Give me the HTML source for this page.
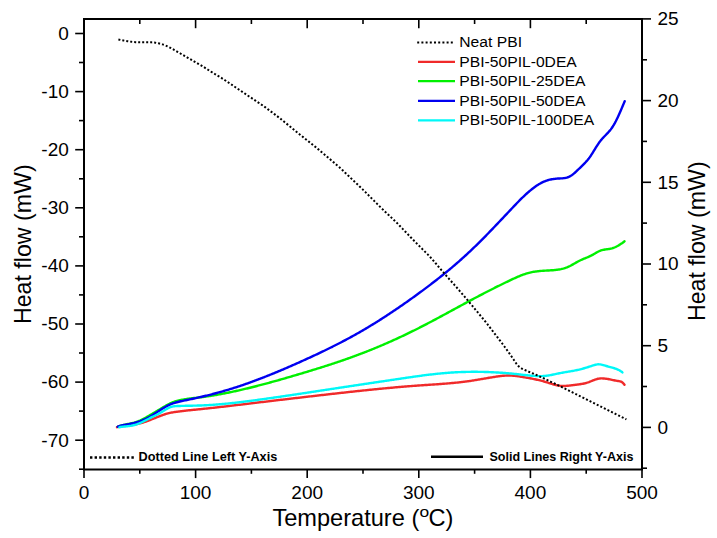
<!DOCTYPE html>
<html><head><meta charset="utf-8"><style>
html,body{margin:0;padding:0;background:#fff;}
svg{display:block;}
text{font-family:"Liberation Sans",sans-serif;fill:#000;}
</style></head><body>
<svg width="717" height="538" viewBox="0 0 717 538">
<rect width="717" height="538" fill="#fff"/>
<g stroke="#000" stroke-width="1.6" fill="none">
<line x1="84.0" y1="469.5" x2="84.0" y2="478.1"/>
<line x1="84.0" y1="19" x2="84.0" y2="28.2"/>
<line x1="139.8" y1="469.5" x2="139.8" y2="473.8"/>
<line x1="139.8" y1="19" x2="139.8" y2="24"/>
<line x1="195.6" y1="469.5" x2="195.6" y2="478.1"/>
<line x1="195.6" y1="19" x2="195.6" y2="28.2"/>
<line x1="251.4" y1="469.5" x2="251.4" y2="473.8"/>
<line x1="251.4" y1="19" x2="251.4" y2="24"/>
<line x1="307.2" y1="469.5" x2="307.2" y2="478.1"/>
<line x1="307.2" y1="19" x2="307.2" y2="28.2"/>
<line x1="363.0" y1="469.5" x2="363.0" y2="473.8"/>
<line x1="363.0" y1="19" x2="363.0" y2="24"/>
<line x1="418.8" y1="469.5" x2="418.8" y2="478.1"/>
<line x1="418.8" y1="19" x2="418.8" y2="28.2"/>
<line x1="474.6" y1="469.5" x2="474.6" y2="473.8"/>
<line x1="474.6" y1="19" x2="474.6" y2="24"/>
<line x1="530.4" y1="469.5" x2="530.4" y2="478.1"/>
<line x1="530.4" y1="19" x2="530.4" y2="28.2"/>
<line x1="586.2" y1="469.5" x2="586.2" y2="473.8"/>
<line x1="586.2" y1="19" x2="586.2" y2="24"/>
<line x1="642.0" y1="469.5" x2="642.0" y2="478.1"/>
<line x1="642.0" y1="19" x2="642.0" y2="28.2"/>
<line x1="75.2" y1="33.5" x2="84" y2="33.5"/>
<line x1="79" y1="62.5" x2="84" y2="62.5"/>
<line x1="75.2" y1="91.6" x2="84" y2="91.6"/>
<line x1="79" y1="120.6" x2="84" y2="120.6"/>
<line x1="75.2" y1="149.7" x2="84" y2="149.7"/>
<line x1="79" y1="178.8" x2="84" y2="178.8"/>
<line x1="75.2" y1="207.8" x2="84" y2="207.8"/>
<line x1="79" y1="236.8" x2="84" y2="236.8"/>
<line x1="75.2" y1="265.9" x2="84" y2="265.9"/>
<line x1="79" y1="294.9" x2="84" y2="294.9"/>
<line x1="75.2" y1="324.0" x2="84" y2="324.0"/>
<line x1="79" y1="353.0" x2="84" y2="353.0"/>
<line x1="75.2" y1="382.1" x2="84" y2="382.1"/>
<line x1="79" y1="411.1" x2="84" y2="411.1"/>
<line x1="75.2" y1="440.2" x2="84" y2="440.2"/>
<line x1="79" y1="469.2" x2="84" y2="469.2"/>
<line x1="642" y1="468.2" x2="647" y2="468.2"/>
<line x1="642" y1="427.4" x2="651" y2="427.4"/>
<line x1="642" y1="386.5" x2="647" y2="386.5"/>
<line x1="642" y1="345.7" x2="651" y2="345.7"/>
<line x1="642" y1="304.8" x2="647" y2="304.8"/>
<line x1="642" y1="264.0" x2="651" y2="264.0"/>
<line x1="642" y1="223.1" x2="647" y2="223.1"/>
<line x1="642" y1="182.3" x2="651" y2="182.3"/>
<line x1="642" y1="141.4" x2="647" y2="141.4"/>
<line x1="642" y1="100.6" x2="651" y2="100.6"/>
<line x1="642" y1="59.8" x2="647" y2="59.8"/>
<line x1="642" y1="18.9" x2="651" y2="18.9"/>
</g>
<rect x="84" y="19" width="558" height="450.5" fill="none" stroke="#000" stroke-width="2"/>
<g font-size="19">
<text x="84.0" y="498.9" text-anchor="middle">0</text>
<text x="195.6" y="498.9" text-anchor="middle">100</text>
<text x="307.2" y="498.9" text-anchor="middle">200</text>
<text x="418.8" y="498.9" text-anchor="middle">300</text>
<text x="530.4" y="498.9" text-anchor="middle">400</text>
<text x="642.0" y="498.9" text-anchor="middle">500</text>
<text x="68.8" y="39.8" text-anchor="end">0</text>
<text x="68.8" y="97.9" text-anchor="end">-10</text>
<text x="68.8" y="156.0" text-anchor="end">-20</text>
<text x="68.8" y="214.1" text-anchor="end">-30</text>
<text x="68.8" y="272.2" text-anchor="end">-40</text>
<text x="68.8" y="330.3" text-anchor="end">-50</text>
<text x="68.8" y="388.4" text-anchor="end">-60</text>
<text x="68.8" y="446.5" text-anchor="end">-70</text>
<text x="657.4" y="433.8">0</text>
<text x="657.4" y="352.1">5</text>
<text x="657.4" y="270.4">10</text>
<text x="657.4" y="188.7">15</text>
<text x="657.4" y="107.0">20</text>
<text x="657.4" y="25.3">25</text>
</g>
<text x="0" y="0" font-size="23.2" text-anchor="middle" transform="translate(31.1,244.2) rotate(-90)">Heat flow (mW)</text>
<text x="0" y="0" font-size="23.2" text-anchor="middle" transform="translate(704.7,241.2) rotate(-90)">Heat flow (mW)</text>
<text x="272.4" y="526" font-size="23.6">Temperature (</text>
<text x="0" y="0" font-size="14.5" transform="translate(419.6,516.6) scale(1.2,1)">o</text>
<text x="428.4" y="526" font-size="23.6">C)</text>
<g fill="none" stroke-width="2.4" stroke-linejoin="round" stroke-linecap="round">
<path d="M117.00,427.20 L118.00,426.97 L119.00,426.77 L120.00,426.59 L121.00,426.43 L122.00,426.28 L123.00,426.15 L124.00,426.03 L125.00,425.91 L126.00,425.80 L127.00,425.69 L128.00,425.57 L129.00,425.46 L130.00,425.33 L131.00,425.19 L132.00,425.04 L133.00,424.88 L134.00,424.71 L135.00,424.52 L136.00,424.32 L137.00,424.11 L138.00,423.88 L139.00,423.64 L140.00,423.39 L141.00,423.12 L142.00,422.83 L143.00,422.54 L144.00,422.22 L145.00,421.89 L146.00,421.55 L147.00,421.19 L148.00,420.82 L149.00,420.44 L150.00,420.05 L151.00,419.65 L152.00,419.25 L153.00,418.84 L154.00,418.43 L155.00,418.02 L156.00,417.61 L157.00,417.20 L158.00,416.80 L159.00,416.40 L160.00,416.01 L161.00,415.63 L162.00,415.26 L163.00,414.91 L164.00,414.56 L165.00,414.24 L166.00,413.93 L167.00,413.64 L168.00,413.37 L169.00,413.12 L170.00,412.89 L171.00,412.68 L172.00,412.49 L173.00,412.31 L174.00,412.15 L175.00,411.99 L176.00,411.85 L177.00,411.71 L178.00,411.58 L179.00,411.45 L180.00,411.32 L181.00,411.20 L182.00,411.08 L183.00,410.96 L184.00,410.85 L185.00,410.73 L186.00,410.62 L187.00,410.52 L188.00,410.41 L189.00,410.30 L190.00,410.20 L191.00,410.10 L192.00,410.00 L193.00,409.90 L194.00,409.80 L195.00,409.70 L196.00,409.60 L197.00,409.50 L198.00,409.40 L199.00,409.30 L200.00,409.19 L201.00,409.09 L202.00,408.99 L203.00,408.89 L204.00,408.78 L205.00,408.68 L206.00,408.57 L207.00,408.47 L208.00,408.36 L209.00,408.25 L210.00,408.14 L211.00,408.04 L212.00,407.93 L213.00,407.82 L214.00,407.71 L215.00,407.59 L216.00,407.48 L217.00,407.37 L218.00,407.26 L219.00,407.15 L220.00,407.03 L221.00,406.92 L222.00,406.80 L223.00,406.69 L224.00,406.57 L225.00,406.46 L226.00,406.34 L227.00,406.23 L228.00,406.11 L229.00,405.99 L230.00,405.87 L231.00,405.76 L232.00,405.64 L233.00,405.52 L234.00,405.40 L235.00,405.28 L236.00,405.16 L237.00,405.05 L238.00,404.93 L239.00,404.81 L240.00,404.69 L241.00,404.57 L242.00,404.45 L243.00,404.33 L244.00,404.21 L245.00,404.09 L246.00,403.97 L247.00,403.85 L248.00,403.73 L249.00,403.61 L250.00,403.49 L251.00,403.37 L252.00,403.25 L253.00,403.13 L254.00,403.01 L255.00,402.89 L256.00,402.77 L257.00,402.65 L258.00,402.54 L259.00,402.42 L260.00,402.30 L261.00,402.18 L262.00,402.06 L263.00,401.94 L264.00,401.82 L265.00,401.70 L266.00,401.58 L267.00,401.46 L268.00,401.35 L269.00,401.23 L270.00,401.11 L271.00,400.99 L272.00,400.87 L273.00,400.75 L274.00,400.63 L275.00,400.52 L276.00,400.40 L277.00,400.28 L278.00,400.16 L279.00,400.04 L280.00,399.93 L281.00,399.81 L282.00,399.69 L283.00,399.57 L284.00,399.46 L285.00,399.34 L286.00,399.22 L287.00,399.10 L288.00,398.99 L289.00,398.87 L290.00,398.75 L291.00,398.64 L292.00,398.52 L293.00,398.40 L294.00,398.29 L295.00,398.17 L296.00,398.05 L297.00,397.94 L298.00,397.82 L299.00,397.70 L300.00,397.59 L301.00,397.47 L302.00,397.36 L303.00,397.24 L304.00,397.12 L305.00,397.01 L306.00,396.89 L307.00,396.78 L308.00,396.66 L309.00,396.55 L310.00,396.43 L311.00,396.32 L312.00,396.20 L313.00,396.09 L314.00,395.97 L315.00,395.86 L316.00,395.74 L317.00,395.63 L318.00,395.51 L319.00,395.40 L320.00,395.29 L321.00,395.17 L322.00,395.06 L323.00,394.94 L324.00,394.83 L325.00,394.72 L326.00,394.60 L327.00,394.49 L328.00,394.38 L329.00,394.26 L330.00,394.15 L331.00,394.04 L332.00,393.92 L333.00,393.81 L334.00,393.70 L335.00,393.59 L336.00,393.47 L337.00,393.36 L338.00,393.25 L339.00,393.14 L340.00,393.03 L341.00,392.91 L342.00,392.80 L343.00,392.69 L344.00,392.58 L345.00,392.47 L346.00,392.36 L347.00,392.25 L348.00,392.14 L349.00,392.03 L350.00,391.92 L351.00,391.81 L352.00,391.70 L353.00,391.60 L354.00,391.49 L355.00,391.38 L356.00,391.27 L357.00,391.17 L358.00,391.06 L359.00,390.95 L360.00,390.85 L361.00,390.74 L362.00,390.63 L363.00,390.53 L364.00,390.42 L365.00,390.32 L366.00,390.22 L367.00,390.11 L368.00,390.01 L369.00,389.91 L370.00,389.80 L371.00,389.70 L372.00,389.60 L373.00,389.50 L374.00,389.40 L375.00,389.30 L376.00,389.20 L377.00,389.10 L378.00,389.00 L379.00,388.90 L380.00,388.81 L381.00,388.71 L382.00,388.61 L383.00,388.52 L384.00,388.42 L385.00,388.33 L386.00,388.23 L387.00,388.14 L388.00,388.05 L389.00,387.95 L390.00,387.86 L391.00,387.77 L392.00,387.68 L393.00,387.59 L394.00,387.50 L395.00,387.41 L396.00,387.32 L397.00,387.23 L398.00,387.15 L399.00,387.06 L400.00,386.97 L401.00,386.89 L402.00,386.80 L403.00,386.72 L404.00,386.64 L405.00,386.56 L406.00,386.47 L407.00,386.39 L408.00,386.31 L409.00,386.23 L410.00,386.15 L411.00,386.08 L412.00,386.00 L413.00,385.92 L414.00,385.85 L415.00,385.77 L416.00,385.70 L417.00,385.63 L418.00,385.55 L419.00,385.48 L420.00,385.41 L421.00,385.34 L422.00,385.27 L423.00,385.20 L424.00,385.14 L425.00,385.07 L426.00,385.00 L427.00,384.93 L428.00,384.87 L429.00,384.80 L430.00,384.73 L431.00,384.67 L432.00,384.60 L433.00,384.53 L434.00,384.47 L435.00,384.40 L436.00,384.33 L437.00,384.26 L438.00,384.19 L439.00,384.12 L440.00,384.05 L441.00,383.97 L442.00,383.90 L443.00,383.82 L444.00,383.75 L445.00,383.67 L446.00,383.59 L447.00,383.51 L448.00,383.42 L449.00,383.34 L450.00,383.25 L451.00,383.16 L452.00,383.07 L453.00,382.98 L454.00,382.88 L455.00,382.78 L456.00,382.68 L457.00,382.58 L458.00,382.48 L459.00,382.37 L460.00,382.26 L461.00,382.14 L462.00,382.02 L463.00,381.90 L464.00,381.78 L465.00,381.65 L466.00,381.52 L467.00,381.39 L468.00,381.25 L469.00,381.11 L470.00,380.96 L471.00,380.82 L472.00,380.66 L473.00,380.51 L474.00,380.35 L475.00,380.19 L476.00,380.02 L477.00,379.86 L478.00,379.69 L479.00,379.52 L480.00,379.35 L481.00,379.18 L482.00,379.00 L483.00,378.83 L484.00,378.66 L485.00,378.48 L486.00,378.31 L487.00,378.14 L488.00,377.97 L489.00,377.80 L490.00,377.63 L491.00,377.47 L492.00,377.31 L493.00,377.14 L494.00,376.99 L495.00,376.83 L496.00,376.68 L497.00,376.54 L498.00,376.39 L499.00,376.26 L500.00,376.13 L501.00,376.02 L502.00,375.91 L503.00,375.81 L504.00,375.73 L505.00,375.66 L506.00,375.60 L507.00,375.56 L508.00,375.54 L509.00,375.53 L510.00,375.54 L511.00,375.58 L512.00,375.63 L513.00,375.69 L514.00,375.78 L515.00,375.88 L516.00,375.99 L517.00,376.11 L518.00,376.25 L519.00,376.39 L520.00,376.55 L521.00,376.71 L522.00,376.87 L523.00,377.04 L524.00,377.22 L525.00,377.39 L526.00,377.57 L527.00,377.75 L528.00,377.93 L529.00,378.11 L530.00,378.29 L531.00,378.48 L532.00,378.67 L533.00,378.87 L534.00,379.07 L535.00,379.28 L536.00,379.49 L537.00,379.71 L538.00,379.94 L539.00,380.17 L540.00,380.42 L541.00,380.67 L542.00,380.93 L543.00,381.20 L544.00,381.48 L545.00,381.78 L546.00,382.08 L547.00,382.40 L548.00,382.71 L549.00,383.03 L550.00,383.35 L551.00,383.67 L552.00,383.97 L553.00,384.27 L554.00,384.55 L555.00,384.82 L556.00,385.06 L557.00,385.28 L558.00,385.48 L559.00,385.64 L560.00,385.77 L561.00,385.87 L562.00,385.93 L563.00,385.96 L564.00,385.96 L565.00,385.93 L566.00,385.89 L567.00,385.82 L568.00,385.73 L569.00,385.63 L570.00,385.52 L571.00,385.40 L572.00,385.27 L573.00,385.14 L574.00,385.01 L575.00,384.88 L576.00,384.75 L577.00,384.62 L578.00,384.49 L579.00,384.36 L580.00,384.21 L581.00,384.06 L582.00,383.89 L583.00,383.70 L584.00,383.49 L585.00,383.26 L586.00,383.00 L587.00,382.71 L588.00,382.39 L589.00,382.03 L590.00,381.64 L591.00,381.24 L592.00,380.83 L593.00,380.43 L594.00,380.03 L595.00,379.66 L596.00,379.33 L597.00,379.03 L598.00,378.79 L599.00,378.61 L600.00,378.49 L601.00,378.42 L602.00,378.40 L603.00,378.43 L604.00,378.49 L605.00,378.59 L606.00,378.72 L607.00,378.88 L608.00,379.05 L609.00,379.24 L610.00,379.44 L611.00,379.66 L612.00,379.87 L613.00,380.08 L614.00,380.29 L615.00,380.49 L616.00,380.68 L617.00,380.86 L618.00,381.01 L619.00,381.15 L620.00,381.34 L621.00,381.65 L622.00,382.17 L623.00,382.95 L624.00,384.08 L624.50,384.80" stroke="#f02a2a"/>
<path d="M118.00,426.60 L119.00,426.30 L120.00,426.00 L121.00,425.71 L122.00,425.44 L123.00,425.17 L124.00,424.92 L125.00,424.68 L126.00,424.45 L127.00,424.23 L128.00,424.02 L129.00,423.81 L130.00,423.60 L131.00,423.38 L132.00,423.15 L133.00,422.91 L134.00,422.65 L135.00,422.36 L136.00,422.06 L137.00,421.72 L138.00,421.35 L139.00,420.94 L140.00,420.51 L141.00,420.05 L142.00,419.57 L143.00,419.07 L144.00,418.55 L145.00,418.01 L146.00,417.45 L147.00,416.89 L148.00,416.31 L149.00,415.73 L150.00,415.14 L151.00,414.55 L152.00,413.96 L153.00,413.37 L154.00,412.77 L155.00,412.18 L156.00,411.58 L157.00,410.98 L158.00,410.38 L159.00,409.78 L160.00,409.18 L161.00,408.58 L162.00,407.98 L163.00,407.37 L164.00,406.77 L165.00,406.18 L166.00,405.60 L167.00,405.04 L168.00,404.49 L169.00,403.96 L170.00,403.46 L171.00,402.99 L172.00,402.55 L173.00,402.15 L174.00,401.78 L175.00,401.45 L176.00,401.14 L177.00,400.86 L178.00,400.60 L179.00,400.36 L180.00,400.14 L181.00,399.94 L182.00,399.75 L183.00,399.57 L184.00,399.40 L185.00,399.24 L186.00,399.08 L187.00,398.94 L188.00,398.80 L189.00,398.66 L190.00,398.53 L191.00,398.41 L192.00,398.29 L193.00,398.17 L194.00,398.05 L195.00,397.93 L196.00,397.82 L197.00,397.70 L198.00,397.59 L199.00,397.47 L200.00,397.35 L201.00,397.22 L202.00,397.09 L203.00,396.96 L204.00,396.83 L205.00,396.69 L206.00,396.55 L207.00,396.40 L208.00,396.26 L209.00,396.10 L210.00,395.95 L211.00,395.79 L212.00,395.63 L213.00,395.47 L214.00,395.31 L215.00,395.14 L216.00,394.97 L217.00,394.79 L218.00,394.61 L219.00,394.43 L220.00,394.25 L221.00,394.07 L222.00,393.88 L223.00,393.69 L224.00,393.50 L225.00,393.30 L226.00,393.10 L227.00,392.90 L228.00,392.70 L229.00,392.50 L230.00,392.29 L231.00,392.08 L232.00,391.87 L233.00,391.65 L234.00,391.44 L235.00,391.22 L236.00,391.00 L237.00,390.78 L238.00,390.56 L239.00,390.33 L240.00,390.10 L241.00,389.87 L242.00,389.64 L243.00,389.41 L244.00,389.17 L245.00,388.94 L246.00,388.70 L247.00,388.46 L248.00,388.22 L249.00,387.97 L250.00,387.73 L251.00,387.48 L252.00,387.23 L253.00,386.98 L254.00,386.73 L255.00,386.48 L256.00,386.22 L257.00,385.97 L258.00,385.71 L259.00,385.45 L260.00,385.19 L261.00,384.93 L262.00,384.66 L263.00,384.40 L264.00,384.13 L265.00,383.87 L266.00,383.60 L267.00,383.33 L268.00,383.06 L269.00,382.79 L270.00,382.51 L271.00,382.24 L272.00,381.96 L273.00,381.69 L274.00,381.41 L275.00,381.13 L276.00,380.85 L277.00,380.57 L278.00,380.29 L279.00,380.00 L280.00,379.72 L281.00,379.44 L282.00,379.15 L283.00,378.86 L284.00,378.58 L285.00,378.29 L286.00,378.00 L287.00,377.71 L288.00,377.42 L289.00,377.13 L290.00,376.84 L291.00,376.54 L292.00,376.25 L293.00,375.96 L294.00,375.66 L295.00,375.37 L296.00,375.07 L297.00,374.77 L298.00,374.48 L299.00,374.18 L300.00,373.88 L301.00,373.58 L302.00,373.29 L303.00,372.99 L304.00,372.69 L305.00,372.39 L306.00,372.08 L307.00,371.78 L308.00,371.48 L309.00,371.18 L310.00,370.87 L311.00,370.57 L312.00,370.26 L313.00,369.96 L314.00,369.65 L315.00,369.34 L316.00,369.03 L317.00,368.72 L318.00,368.41 L319.00,368.10 L320.00,367.79 L321.00,367.48 L322.00,367.16 L323.00,366.84 L324.00,366.53 L325.00,366.21 L326.00,365.89 L327.00,365.57 L328.00,365.25 L329.00,364.92 L330.00,364.60 L331.00,364.27 L332.00,363.95 L333.00,363.62 L334.00,363.29 L335.00,362.96 L336.00,362.62 L337.00,362.29 L338.00,361.95 L339.00,361.61 L340.00,361.28 L341.00,360.93 L342.00,360.59 L343.00,360.25 L344.00,359.90 L345.00,359.55 L346.00,359.20 L347.00,358.85 L348.00,358.50 L349.00,358.14 L350.00,357.79 L351.00,357.43 L352.00,357.07 L353.00,356.70 L354.00,356.34 L355.00,355.97 L356.00,355.60 L357.00,355.23 L358.00,354.86 L359.00,354.48 L360.00,354.11 L361.00,353.73 L362.00,353.34 L363.00,352.96 L364.00,352.57 L365.00,352.18 L366.00,351.79 L367.00,351.40 L368.00,351.00 L369.00,350.61 L370.00,350.21 L371.00,349.80 L372.00,349.40 L373.00,348.99 L374.00,348.59 L375.00,348.17 L376.00,347.76 L377.00,347.35 L378.00,346.93 L379.00,346.51 L380.00,346.09 L381.00,345.66 L382.00,345.24 L383.00,344.81 L384.00,344.38 L385.00,343.95 L386.00,343.51 L387.00,343.07 L388.00,342.63 L389.00,342.19 L390.00,341.75 L391.00,341.30 L392.00,340.86 L393.00,340.40 L394.00,339.95 L395.00,339.50 L396.00,339.04 L397.00,338.58 L398.00,338.12 L399.00,337.66 L400.00,337.19 L401.00,336.73 L402.00,336.26 L403.00,335.79 L404.00,335.31 L405.00,334.84 L406.00,334.36 L407.00,333.88 L408.00,333.39 L409.00,332.91 L410.00,332.42 L411.00,331.93 L412.00,331.44 L413.00,330.95 L414.00,330.46 L415.00,329.96 L416.00,329.46 L417.00,328.96 L418.00,328.45 L419.00,327.95 L420.00,327.44 L421.00,326.93 L422.00,326.42 L423.00,325.91 L424.00,325.39 L425.00,324.87 L426.00,324.35 L427.00,323.83 L428.00,323.31 L429.00,322.78 L430.00,322.26 L431.00,321.73 L432.00,321.20 L433.00,320.67 L434.00,320.14 L435.00,319.61 L436.00,319.07 L437.00,318.54 L438.00,318.00 L439.00,317.47 L440.00,316.93 L441.00,316.39 L442.00,315.85 L443.00,315.31 L444.00,314.77 L445.00,314.23 L446.00,313.69 L447.00,313.14 L448.00,312.60 L449.00,312.06 L450.00,311.51 L451.00,310.97 L452.00,310.43 L453.00,309.88 L454.00,309.34 L455.00,308.79 L456.00,308.25 L457.00,307.71 L458.00,307.16 L459.00,306.62 L460.00,306.08 L461.00,305.54 L462.00,304.99 L463.00,304.45 L464.00,303.91 L465.00,303.37 L466.00,302.83 L467.00,302.29 L468.00,301.76 L469.00,301.22 L470.00,300.68 L471.00,300.15 L472.00,299.62 L473.00,299.08 L474.00,298.55 L475.00,298.02 L476.00,297.49 L477.00,296.96 L478.00,296.44 L479.00,295.91 L480.00,295.39 L481.00,294.87 L482.00,294.34 L483.00,293.82 L484.00,293.30 L485.00,292.79 L486.00,292.27 L487.00,291.76 L488.00,291.24 L489.00,290.73 L490.00,290.22 L491.00,289.71 L492.00,289.21 L493.00,288.70 L494.00,288.20 L495.00,287.69 L496.00,287.19 L497.00,286.69 L498.00,286.20 L499.00,285.70 L500.00,285.21 L501.00,284.71 L502.00,284.22 L503.00,283.74 L504.00,283.25 L505.00,282.76 L506.00,282.28 L507.00,281.80 L508.00,281.32 L509.00,280.84 L510.00,280.37 L511.00,279.89 L512.00,279.42 L513.00,278.96 L514.00,278.50 L515.00,278.04 L516.00,277.59 L517.00,277.15 L518.00,276.72 L519.00,276.29 L520.00,275.88 L521.00,275.48 L522.00,275.09 L523.00,274.72 L524.00,274.36 L525.00,274.02 L526.00,273.69 L527.00,273.38 L528.00,273.09 L529.00,272.81 L530.00,272.56 L531.00,272.33 L532.00,272.12 L533.00,271.93 L534.00,271.75 L535.00,271.59 L536.00,271.45 L537.00,271.32 L538.00,271.21 L539.00,271.10 L540.00,271.01 L541.00,270.92 L542.00,270.85 L543.00,270.78 L544.00,270.71 L545.00,270.65 L546.00,270.60 L547.00,270.54 L548.00,270.49 L549.00,270.43 L550.00,270.38 L551.00,270.32 L552.00,270.25 L553.00,270.18 L554.00,270.10 L555.00,270.01 L556.00,269.91 L557.00,269.79 L558.00,269.66 L559.00,269.50 L560.00,269.32 L561.00,269.13 L562.00,268.90 L563.00,268.65 L564.00,268.37 L565.00,268.05 L566.00,267.71 L567.00,267.33 L568.00,266.91 L569.00,266.45 L570.00,265.96 L571.00,265.44 L572.00,264.90 L573.00,264.34 L574.00,263.78 L575.00,263.20 L576.00,262.64 L577.00,262.07 L578.00,261.53 L579.00,261.00 L580.00,260.49 L581.00,260.02 L582.00,259.57 L583.00,259.14 L584.00,258.73 L585.00,258.32 L586.00,257.91 L587.00,257.50 L588.00,257.08 L589.00,256.64 L590.00,256.18 L591.00,255.70 L592.00,255.17 L593.00,254.62 L594.00,254.03 L595.00,253.44 L596.00,252.84 L597.00,252.27 L598.00,251.73 L599.00,251.23 L600.00,250.80 L601.00,250.44 L602.00,250.14 L603.00,249.90 L604.00,249.70 L605.00,249.54 L606.00,249.39 L607.00,249.25 L608.00,249.11 L609.00,248.96 L610.00,248.79 L611.00,248.58 L612.00,248.33 L613.00,248.02 L614.00,247.66 L615.00,247.25 L616.00,246.79 L617.00,246.28 L618.00,245.73 L619.00,245.14 L620.00,244.51 L621.00,243.85 L622.00,243.16 L623.00,242.43 L624.00,241.68 L624.50,241.30" stroke="#00f000"/>
<path d="M117.80,426.70 L118.80,426.30 L119.80,425.96 L120.80,425.68 L121.80,425.43 L122.80,425.23 L123.80,425.04 L124.80,424.86 L125.80,424.68 L126.80,424.51 L127.80,424.32 L128.80,424.14 L129.80,423.94 L130.80,423.74 L131.80,423.52 L132.80,423.30 L133.80,423.06 L134.80,422.80 L135.80,422.53 L136.80,422.25 L137.80,421.94 L138.80,421.62 L139.80,421.28 L140.80,420.91 L141.80,420.53 L142.80,420.12 L143.80,419.70 L144.80,419.25 L145.80,418.79 L146.80,418.30 L147.80,417.79 L148.80,417.25 L149.80,416.70 L150.80,416.12 L151.80,415.52 L152.80,414.91 L153.80,414.28 L154.80,413.63 L155.80,412.99 L156.80,412.33 L157.80,411.67 L158.80,411.02 L159.80,410.37 L160.80,409.72 L161.80,409.09 L162.80,408.47 L163.80,407.86 L164.80,407.27 L165.80,406.70 L166.80,406.16 L167.80,405.63 L168.80,405.14 L169.80,404.67 L170.80,404.23 L171.80,403.82 L172.80,403.44 L173.80,403.10 L174.80,402.78 L175.80,402.49 L176.80,402.22 L177.80,401.97 L178.80,401.73 L179.80,401.50 L180.80,401.28 L181.80,401.07 L182.80,400.86 L183.80,400.65 L184.80,400.44 L185.80,400.23 L186.80,400.02 L187.80,399.81 L188.80,399.59 L189.80,399.38 L190.80,399.17 L191.80,398.96 L192.80,398.74 L193.80,398.53 L194.80,398.31 L195.80,398.09 L196.80,397.87 L197.80,397.65 L198.80,397.43 L199.80,397.20 L200.80,396.97 L201.80,396.74 L202.80,396.51 L203.80,396.27 L204.80,396.03 L205.80,395.79 L206.80,395.55 L207.80,395.30 L208.80,395.05 L209.80,394.80 L210.80,394.55 L211.80,394.29 L212.80,394.03 L213.80,393.77 L214.80,393.51 L215.80,393.24 L216.80,392.97 L217.80,392.70 L218.80,392.42 L219.80,392.15 L220.80,391.87 L221.80,391.58 L222.80,391.30 L223.80,391.01 L224.80,390.72 L225.80,390.43 L226.80,390.13 L227.80,389.83 L228.80,389.53 L229.80,389.22 L230.80,388.92 L231.80,388.61 L232.80,388.30 L233.80,387.98 L234.80,387.66 L235.80,387.34 L236.80,387.02 L237.80,386.69 L238.80,386.36 L239.80,386.03 L240.80,385.70 L241.80,385.36 L242.80,385.02 L243.80,384.68 L244.80,384.33 L245.80,383.98 L246.80,383.63 L247.80,383.28 L248.80,382.92 L249.80,382.57 L250.80,382.20 L251.80,381.84 L252.80,381.48 L253.80,381.11 L254.80,380.74 L255.80,380.36 L256.80,379.99 L257.80,379.61 L258.80,379.23 L259.80,378.85 L260.80,378.47 L261.80,378.08 L262.80,377.69 L263.80,377.30 L264.80,376.91 L265.80,376.51 L266.80,376.12 L267.80,375.72 L268.80,375.32 L269.80,374.91 L270.80,374.51 L271.80,374.10 L272.80,373.69 L273.80,373.28 L274.80,372.87 L275.80,372.46 L276.80,372.04 L277.80,371.63 L278.80,371.21 L279.80,370.79 L280.80,370.36 L281.80,369.94 L282.80,369.52 L283.80,369.09 L284.80,368.66 L285.80,368.23 L286.80,367.80 L287.80,367.37 L288.80,366.93 L289.80,366.50 L290.80,366.06 L291.80,365.62 L292.80,365.19 L293.80,364.74 L294.80,364.30 L295.80,363.86 L296.80,363.42 L297.80,362.97 L298.80,362.53 L299.80,362.08 L300.80,361.63 L301.80,361.18 L302.80,360.73 L303.80,360.28 L304.80,359.83 L305.80,359.37 L306.80,358.92 L307.80,358.46 L308.80,358.01 L309.80,357.55 L310.80,357.09 L311.80,356.63 L312.80,356.16 L313.80,355.70 L314.80,355.23 L315.80,354.77 L316.80,354.30 L317.80,353.83 L318.80,353.35 L319.80,352.88 L320.80,352.40 L321.80,351.93 L322.80,351.45 L323.80,350.97 L324.80,350.48 L325.80,350.00 L326.80,349.51 L327.80,349.02 L328.80,348.53 L329.80,348.04 L330.80,347.54 L331.80,347.05 L332.80,346.55 L333.80,346.04 L334.80,345.54 L335.80,345.03 L336.80,344.53 L337.80,344.01 L338.80,343.50 L339.80,342.99 L340.80,342.47 L341.80,341.95 L342.80,341.42 L343.80,340.90 L344.80,340.37 L345.80,339.84 L346.80,339.30 L347.80,338.77 L348.80,338.23 L349.80,337.69 L350.80,337.14 L351.80,336.59 L352.80,336.04 L353.80,335.49 L354.80,334.93 L355.80,334.37 L356.80,333.81 L357.80,333.25 L358.80,332.68 L359.80,332.10 L360.80,331.53 L361.80,330.95 L362.80,330.37 L363.80,329.78 L364.80,329.20 L365.80,328.61 L366.80,328.01 L367.80,327.41 L368.80,326.81 L369.80,326.21 L370.80,325.60 L371.80,325.00 L372.80,324.38 L373.80,323.77 L374.80,323.15 L375.80,322.53 L376.80,321.90 L377.80,321.28 L378.80,320.65 L379.80,320.01 L380.80,319.38 L381.80,318.74 L382.80,318.10 L383.80,317.46 L384.80,316.81 L385.80,316.16 L386.80,315.51 L387.80,314.85 L388.80,314.19 L389.80,313.53 L390.80,312.87 L391.80,312.20 L392.80,311.54 L393.80,310.87 L394.80,310.19 L395.80,309.52 L396.80,308.84 L397.80,308.16 L398.80,307.47 L399.80,306.79 L400.80,306.10 L401.80,305.41 L402.80,304.71 L403.80,304.02 L404.80,303.32 L405.80,302.62 L406.80,301.91 L407.80,301.21 L408.80,300.50 L409.80,299.79 L410.80,299.08 L411.80,298.36 L412.80,297.64 L413.80,296.92 L414.80,296.20 L415.80,295.48 L416.80,294.75 L417.80,294.02 L418.80,293.29 L419.80,292.56 L420.80,291.83 L421.80,291.09 L422.80,290.35 L423.80,289.61 L424.80,288.86 L425.80,288.12 L426.80,287.37 L427.80,286.62 L428.80,285.86 L429.80,285.10 L430.80,284.34 L431.80,283.58 L432.80,282.81 L433.80,282.04 L434.80,281.27 L435.80,280.50 L436.80,279.72 L437.80,278.93 L438.80,278.15 L439.80,277.36 L440.80,276.56 L441.80,275.76 L442.80,274.96 L443.80,274.16 L444.80,273.35 L445.80,272.53 L446.80,271.71 L447.80,270.89 L448.80,270.07 L449.80,269.23 L450.80,268.40 L451.80,267.56 L452.80,266.71 L453.80,265.86 L454.80,265.01 L455.80,264.15 L456.80,263.28 L457.80,262.41 L458.80,261.54 L459.80,260.66 L460.80,259.77 L461.80,258.88 L462.80,257.98 L463.80,257.08 L464.80,256.17 L465.80,255.26 L466.80,254.34 L467.80,253.41 L468.80,252.48 L469.80,251.54 L470.80,250.60 L471.80,249.65 L472.80,248.69 L473.80,247.73 L474.80,246.76 L475.80,245.79 L476.80,244.81 L477.80,243.83 L478.80,242.84 L479.80,241.84 L480.80,240.85 L481.80,239.84 L482.80,238.84 L483.80,237.83 L484.80,236.81 L485.80,235.79 L486.80,234.77 L487.80,233.75 L488.80,232.72 L489.80,231.69 L490.80,230.65 L491.80,229.61 L492.80,228.57 L493.80,227.53 L494.80,226.49 L495.80,225.44 L496.80,224.39 L497.80,223.34 L498.80,222.28 L499.80,221.23 L500.80,220.17 L501.80,219.12 L502.80,218.06 L503.80,217.00 L504.80,215.94 L505.80,214.88 L506.80,213.82 L507.80,212.76 L508.80,211.70 L509.80,210.64 L510.80,209.58 L511.80,208.52 L512.80,207.46 L513.80,206.41 L514.80,205.36 L515.80,204.31 L516.80,203.27 L517.80,202.25 L518.80,201.22 L519.80,200.21 L520.80,199.21 L521.80,198.23 L522.80,197.25 L523.80,196.29 L524.80,195.35 L525.80,194.42 L526.80,193.51 L527.80,192.61 L528.80,191.74 L529.80,190.89 L530.80,190.06 L531.80,189.25 L532.80,188.47 L533.80,187.71 L534.80,186.98 L535.80,186.27 L536.80,185.59 L537.80,184.94 L538.80,184.33 L539.80,183.74 L540.80,183.18 L541.80,182.65 L542.80,182.16 L543.80,181.71 L544.80,181.28 L545.80,180.90 L546.80,180.55 L547.80,180.23 L548.80,179.95 L549.80,179.70 L550.80,179.47 L551.80,179.27 L552.80,179.10 L553.80,178.95 L554.80,178.83 L555.80,178.72 L556.80,178.64 L557.80,178.57 L558.80,178.51 L559.80,178.47 L560.80,178.42 L561.80,178.36 L562.80,178.28 L563.80,178.17 L564.80,178.02 L565.80,177.83 L566.80,177.58 L567.80,177.26 L568.80,176.87 L569.80,176.39 L570.80,175.81 L571.80,175.16 L572.80,174.42 L573.80,173.62 L574.80,172.76 L575.80,171.86 L576.80,170.92 L577.80,169.96 L578.80,168.99 L579.80,168.02 L580.80,167.05 L581.80,166.09 L582.80,165.12 L583.80,164.12 L584.80,163.10 L585.80,162.04 L586.80,160.92 L587.80,159.74 L588.80,158.48 L589.80,157.14 L590.80,155.70 L591.80,154.18 L592.80,152.60 L593.80,150.99 L594.80,149.35 L595.80,147.72 L596.80,146.11 L597.80,144.55 L598.80,143.06 L599.80,141.66 L600.80,140.37 L601.80,139.18 L602.80,138.06 L603.80,137.01 L604.80,135.98 L605.80,134.97 L606.80,133.95 L607.80,132.91 L608.80,131.81 L609.80,130.64 L610.80,129.37 L611.80,128.00 L612.80,126.48 L613.80,124.84 L614.80,123.07 L615.80,121.20 L616.80,119.22 L617.80,117.15 L618.80,114.99 L619.80,112.77 L620.80,110.49 L621.80,108.15 L622.80,105.78 L623.80,103.37 L624.70,101.19" stroke="#0000f0"/>
<path d="M119.30,427.30 L120.30,427.03 L121.30,426.83 L122.30,426.69 L123.30,426.59 L124.30,426.51 L125.30,426.43 L126.30,426.34 L127.30,426.24 L128.30,426.12 L129.30,425.99 L130.30,425.85 L131.30,425.68 L132.30,425.48 L133.30,425.27 L134.30,425.02 L135.30,424.75 L136.30,424.45 L137.30,424.11 L138.30,423.74 L139.30,423.34 L140.30,422.92 L141.30,422.47 L142.30,422.00 L143.30,421.51 L144.30,421.01 L145.30,420.50 L146.30,419.99 L147.30,419.47 L148.30,418.96 L149.30,418.44 L150.30,417.94 L151.30,417.44 L152.30,416.95 L153.30,416.46 L154.30,415.97 L155.30,415.48 L156.30,414.98 L157.30,414.47 L158.30,413.95 L159.30,413.41 L160.30,412.86 L161.30,412.28 L162.30,411.67 L163.30,411.05 L164.30,410.41 L165.30,409.78 L166.30,409.17 L167.30,408.59 L168.30,408.05 L169.30,407.58 L170.30,407.18 L171.30,406.86 L172.30,406.61 L173.30,406.41 L174.30,406.27 L175.30,406.17 L176.30,406.10 L177.30,406.06 L178.30,406.02 L179.30,405.98 L180.30,405.95 L181.30,405.92 L182.30,405.89 L183.30,405.87 L184.30,405.84 L185.30,405.82 L186.30,405.80 L187.30,405.78 L188.30,405.76 L189.30,405.74 L190.30,405.72 L191.30,405.70 L192.30,405.68 L193.30,405.66 L194.30,405.64 L195.30,405.62 L196.30,405.59 L197.30,405.57 L198.30,405.54 L199.30,405.51 L200.30,405.47 L201.30,405.44 L202.30,405.40 L203.30,405.35 L204.30,405.31 L205.30,405.26 L206.30,405.21 L207.30,405.16 L208.30,405.10 L209.30,405.04 L210.30,404.98 L211.30,404.91 L212.30,404.85 L213.30,404.78 L214.30,404.71 L215.30,404.63 L216.30,404.56 L217.30,404.48 L218.30,404.40 L219.30,404.31 L220.30,404.23 L221.30,404.14 L222.30,404.05 L223.30,403.96 L224.30,403.87 L225.30,403.77 L226.30,403.67 L227.30,403.58 L228.30,403.47 L229.30,403.37 L230.30,403.27 L231.30,403.16 L232.30,403.05 L233.30,402.94 L234.30,402.83 L235.30,402.72 L236.30,402.61 L237.30,402.49 L238.30,402.37 L239.30,402.25 L240.30,402.13 L241.30,402.01 L242.30,401.89 L243.30,401.77 L244.30,401.64 L245.30,401.52 L246.30,401.39 L247.30,401.26 L248.30,401.13 L249.30,401.00 L250.30,400.87 L251.30,400.74 L252.30,400.61 L253.30,400.48 L254.30,400.34 L255.30,400.21 L256.30,400.07 L257.30,399.94 L258.30,399.80 L259.30,399.66 L260.30,399.52 L261.30,399.39 L262.30,399.25 L263.30,399.11 L264.30,398.97 L265.30,398.83 L266.30,398.69 L267.30,398.55 L268.30,398.41 L269.30,398.27 L270.30,398.12 L271.30,397.98 L272.30,397.84 L273.30,397.70 L274.30,397.55 L275.30,397.41 L276.30,397.27 L277.30,397.12 L278.30,396.98 L279.30,396.83 L280.30,396.69 L281.30,396.54 L282.30,396.39 L283.30,396.25 L284.30,396.10 L285.30,395.95 L286.30,395.81 L287.30,395.66 L288.30,395.51 L289.30,395.36 L290.30,395.22 L291.30,395.07 L292.30,394.92 L293.30,394.77 L294.30,394.62 L295.30,394.47 L296.30,394.32 L297.30,394.17 L298.30,394.02 L299.30,393.87 L300.30,393.72 L301.30,393.57 L302.30,393.42 L303.30,393.27 L304.30,393.12 L305.30,392.97 L306.30,392.82 L307.30,392.67 L308.30,392.52 L309.30,392.36 L310.30,392.21 L311.30,392.06 L312.30,391.91 L313.30,391.76 L314.30,391.61 L315.30,391.45 L316.30,391.30 L317.30,391.15 L318.30,391.00 L319.30,390.85 L320.30,390.69 L321.30,390.54 L322.30,390.39 L323.30,390.24 L324.30,390.09 L325.30,389.93 L326.30,389.78 L327.30,389.63 L328.30,389.48 L329.30,389.33 L330.30,389.17 L331.30,389.02 L332.30,388.87 L333.30,388.72 L334.30,388.57 L335.30,388.42 L336.30,388.27 L337.30,388.11 L338.30,387.96 L339.30,387.81 L340.30,387.66 L341.30,387.51 L342.30,387.36 L343.30,387.21 L344.30,387.06 L345.30,386.91 L346.30,386.75 L347.30,386.60 L348.30,386.45 L349.30,386.30 L350.30,386.15 L351.30,386.00 L352.30,385.85 L353.30,385.70 L354.30,385.55 L355.30,385.40 L356.30,385.25 L357.30,385.10 L358.30,384.95 L359.30,384.80 L360.30,384.65 L361.30,384.50 L362.30,384.35 L363.30,384.20 L364.30,384.05 L365.30,383.90 L366.30,383.75 L367.30,383.60 L368.30,383.45 L369.30,383.30 L370.30,383.15 L371.30,383.00 L372.30,382.85 L373.30,382.71 L374.30,382.56 L375.30,382.41 L376.30,382.26 L377.30,382.11 L378.30,381.96 L379.30,381.81 L380.30,381.66 L381.30,381.51 L382.30,381.36 L383.30,381.22 L384.30,381.07 L385.30,380.92 L386.30,380.77 L387.30,380.62 L388.30,380.47 L389.30,380.32 L390.30,380.18 L391.30,380.03 L392.30,379.88 L393.30,379.73 L394.30,379.58 L395.30,379.43 L396.30,379.29 L397.30,379.14 L398.30,378.99 L399.30,378.84 L400.30,378.69 L401.30,378.55 L402.30,378.40 L403.30,378.25 L404.30,378.10 L405.30,377.96 L406.30,377.81 L407.30,377.66 L408.30,377.52 L409.30,377.37 L410.30,377.23 L411.30,377.08 L412.30,376.94 L413.30,376.80 L414.30,376.66 L415.30,376.51 L416.30,376.38 L417.30,376.24 L418.30,376.10 L419.30,375.96 L420.30,375.83 L421.30,375.69 L422.30,375.56 L423.30,375.43 L424.30,375.30 L425.30,375.17 L426.30,375.04 L427.30,374.92 L428.30,374.80 L429.30,374.67 L430.30,374.55 L431.30,374.44 L432.30,374.32 L433.30,374.21 L434.30,374.09 L435.30,373.98 L436.30,373.88 L437.30,373.77 L438.30,373.67 L439.30,373.57 L440.30,373.47 L441.30,373.37 L442.30,373.28 L443.30,373.19 L444.30,373.10 L445.30,373.02 L446.30,372.93 L447.30,372.85 L448.30,372.78 L449.30,372.70 L450.30,372.63 L451.30,372.56 L452.30,372.50 L453.30,372.44 L454.30,372.38 L455.30,372.32 L456.30,372.27 L457.30,372.22 L458.30,372.17 L459.30,372.13 L460.30,372.09 L461.30,372.05 L462.30,372.01 L463.30,371.98 L464.30,371.95 L465.30,371.93 L466.30,371.90 L467.30,371.88 L468.30,371.86 L469.30,371.85 L470.30,371.83 L471.30,371.82 L472.30,371.82 L473.30,371.81 L474.30,371.81 L475.30,371.81 L476.30,371.82 L477.30,371.82 L478.30,371.83 L479.30,371.84 L480.30,371.86 L481.30,371.88 L482.30,371.90 L483.30,371.92 L484.30,371.94 L485.30,371.97 L486.30,372.00 L487.30,372.03 L488.30,372.07 L489.30,372.11 L490.30,372.15 L491.30,372.19 L492.30,372.23 L493.30,372.28 L494.30,372.33 L495.30,372.38 L496.30,372.44 L497.30,372.50 L498.30,372.56 L499.30,372.62 L500.30,372.68 L501.30,372.75 L502.30,372.82 L503.30,372.89 L504.30,372.96 L505.30,373.04 L506.30,373.12 L507.30,373.20 L508.30,373.29 L509.30,373.37 L510.30,373.46 L511.30,373.55 L512.30,373.65 L513.30,373.74 L514.30,373.84 L515.30,373.94 L516.30,374.04 L517.30,374.15 L518.30,374.26 L519.30,374.37 L520.30,374.48 L521.30,374.59 L522.30,374.71 L523.30,374.82 L524.30,374.94 L525.30,375.05 L526.30,375.17 L527.30,375.28 L528.30,375.39 L529.30,375.49 L530.30,375.59 L531.30,375.68 L532.30,375.77 L533.30,375.85 L534.30,375.92 L535.30,375.98 L536.30,376.03 L537.30,376.08 L538.30,376.11 L539.30,376.12 L540.30,376.13 L541.30,376.11 L542.30,376.08 L543.30,376.03 L544.30,375.96 L545.30,375.87 L546.30,375.76 L547.30,375.63 L548.30,375.48 L549.30,375.31 L550.30,375.14 L551.30,374.95 L552.30,374.75 L553.30,374.54 L554.30,374.33 L555.30,374.12 L556.30,373.91 L557.30,373.69 L558.30,373.48 L559.30,373.27 L560.30,373.08 L561.30,372.88 L562.30,372.70 L563.30,372.52 L564.30,372.35 L565.30,372.18 L566.30,372.01 L567.30,371.84 L568.30,371.68 L569.30,371.51 L570.30,371.35 L571.30,371.18 L572.30,371.00 L573.30,370.82 L574.30,370.64 L575.30,370.44 L576.30,370.24 L577.30,370.03 L578.30,369.81 L579.30,369.58 L580.30,369.34 L581.30,369.08 L582.30,368.81 L583.30,368.53 L584.30,368.24 L585.30,367.94 L586.30,367.64 L587.30,367.32 L588.30,367.00 L589.30,366.68 L590.30,366.35 L591.30,366.02 L592.30,365.69 L593.30,365.36 L594.30,365.05 L595.30,364.78 L596.30,364.56 L597.30,364.40 L598.30,364.32 L599.30,364.33 L600.30,364.43 L601.30,364.60 L602.30,364.82 L603.30,365.09 L604.30,365.38 L605.30,365.68 L606.30,365.98 L607.30,366.27 L608.30,366.55 L609.30,366.82 L610.30,367.10 L611.30,367.38 L612.30,367.66 L613.30,367.95 L614.30,368.26 L615.30,368.59 L616.30,368.95 L617.30,369.35 L618.30,369.79 L619.30,370.31 L620.30,370.89 L621.30,371.56 L622.30,372.32 L622.40,372.40" stroke="#00f8f8"/>
</g>
<path d="M118.40,39.50 L119.40,39.69 L120.40,39.89 L121.40,40.08 L122.40,40.28 L123.40,40.47 L124.40,40.65 L125.40,40.83 L126.40,41.00 L127.40,41.17 L128.40,41.33 L129.40,41.48 L130.40,41.63 L131.40,41.77 L132.40,41.90 L133.40,42.00 L134.40,42.08 L135.40,42.14 L136.40,42.18 L137.40,42.21 L138.40,42.24 L139.40,42.26 L140.40,42.28 L141.40,42.29 L142.40,42.30 L143.40,42.30 L144.40,42.30 L145.40,42.30 L146.40,42.30 L147.40,42.30 L148.40,42.30 L149.40,42.30 L150.40,42.31 L151.40,42.34 L152.40,42.39 L153.40,42.47 L154.40,42.59 L155.40,42.75 L156.40,42.93 L157.40,43.13 L158.40,43.35 L159.40,43.58 L160.40,43.82 L161.40,44.08 L162.40,44.35 L163.40,44.65 L164.40,44.99 L165.40,45.39 L166.40,45.84 L167.40,46.32 L168.40,46.82 L169.40,47.33 L170.40,47.84 L171.40,48.37 L172.40,48.91 L173.40,49.47 L174.40,50.05 L175.40,50.63 L176.40,51.21 L177.40,51.79 L178.40,52.36 L179.40,52.93 L180.40,53.50 L181.40,54.06 L182.40,54.64 L183.40,55.21 L184.40,55.79 L185.40,56.37 L186.40,56.94 L187.40,57.51 L188.40,58.07 L189.40,58.64 L190.40,59.22 L191.40,59.81 L192.40,60.40 L193.40,61.00 L194.40,61.59 L195.40,62.17 L196.40,62.74 L197.40,63.30 L198.40,63.86 L199.40,64.41 L200.40,64.99 L201.40,65.58 L202.40,66.19 L203.40,66.81 L204.40,67.44 L205.40,68.07 L206.40,68.71 L207.40,69.34 L208.40,69.98 L209.40,70.61 L210.40,71.24 L211.40,71.87 L212.40,72.50 L213.40,73.12 L214.40,73.73 L215.40,74.33 L216.40,74.92 L217.40,75.51 L218.40,76.10 L219.40,76.70 L220.40,77.31 L221.40,77.93 L222.40,78.57 L223.40,79.21 L224.40,79.87 L225.40,80.52 L226.40,81.18 L227.40,81.85 L228.40,82.51 L229.40,83.18 L230.40,83.85 L231.40,84.52 L232.40,85.19 L233.40,85.86 L234.40,86.53 L235.40,87.21 L236.40,87.88 L237.40,88.55 L238.40,89.22 L239.40,89.89 L240.40,90.57 L241.40,91.24 L242.40,91.92 L243.40,92.59 L244.40,93.27 L245.40,93.94 L246.40,94.62 L247.40,95.29 L248.40,95.96 L249.40,96.62 L250.40,97.29 L251.40,97.95 L252.40,98.61 L253.40,99.28 L254.40,99.94 L255.40,100.60 L256.40,101.26 L257.40,101.93 L258.40,102.59 L259.40,103.25 L260.40,103.92 L261.40,104.59 L262.40,105.27 L263.40,105.96 L264.40,106.67 L265.40,107.39 L266.40,108.13 L267.40,108.87 L268.40,109.62 L269.40,110.37 L270.40,111.11 L271.40,111.86 L272.40,112.61 L273.40,113.36 L274.40,114.11 L275.40,114.86 L276.40,115.61 L277.40,116.36 L278.40,117.12 L279.40,117.88 L280.40,118.66 L281.40,119.45 L282.40,120.26 L283.40,121.08 L284.40,121.90 L285.40,122.72 L286.40,123.55 L287.40,124.37 L288.40,125.20 L289.40,126.02 L290.40,126.85 L291.40,127.67 L292.40,128.49 L293.40,129.32 L294.40,130.14 L295.40,130.96 L296.40,131.78 L297.40,132.59 L298.40,133.40 L299.40,134.20 L300.40,135.00 L301.40,135.79 L302.40,136.59 L303.40,137.38 L304.40,138.17 L305.40,138.96 L306.40,139.76 L307.40,140.55 L308.40,141.34 L309.40,142.14 L310.40,142.93 L311.40,143.72 L312.40,144.51 L313.40,145.31 L314.40,146.10 L315.40,146.90 L316.40,147.71 L317.40,148.53 L318.40,149.36 L319.40,150.20 L320.40,151.04 L321.40,151.89 L322.40,152.75 L323.40,153.60 L324.40,154.45 L325.40,155.30 L326.40,156.15 L327.40,157.01 L328.40,157.86 L329.40,158.71 L330.40,159.56 L331.40,160.41 L332.40,161.27 L333.40,162.12 L334.40,162.97 L335.40,163.82 L336.40,164.68 L337.40,165.54 L338.40,166.41 L339.40,167.30 L340.40,168.21 L341.40,169.13 L342.40,170.07 L343.40,171.01 L344.40,171.96 L345.40,172.91 L346.40,173.86 L347.40,174.82 L348.40,175.77 L349.40,176.72 L350.40,177.67 L351.40,178.62 L352.40,179.57 L353.40,180.52 L354.40,181.47 L355.40,182.42 L356.40,183.37 L357.40,184.32 L358.40,185.27 L359.40,186.23 L360.40,187.19 L361.40,188.15 L362.40,189.13 L363.40,190.11 L364.40,191.10 L365.40,192.10 L366.40,193.10 L367.40,194.10 L368.40,195.10 L369.40,196.10 L370.40,197.10 L371.40,198.10 L372.40,199.10 L373.40,200.10 L374.40,201.10 L375.40,202.10 L376.40,203.10 L377.40,204.10 L378.40,205.10 L379.40,206.10 L380.40,207.10 L381.40,208.10 L382.40,209.09 L383.40,210.07 L384.40,211.04 L385.40,212.00 L386.40,212.95 L387.40,213.89 L388.40,214.83 L389.40,215.77 L390.40,216.70 L391.40,217.64 L392.40,218.58 L393.40,219.52 L394.40,220.46 L395.40,221.42 L396.40,222.39 L397.40,223.39 L398.40,224.41 L399.40,225.44 L400.40,226.48 L401.40,227.52 L402.40,228.57 L403.40,229.62 L404.40,230.67 L405.40,231.71 L406.40,232.76 L407.40,233.81 L408.40,234.86 L409.40,235.90 L410.40,236.95 L411.40,237.99 L412.40,239.03 L413.40,240.06 L414.40,241.08 L415.40,242.09 L416.40,243.10 L417.40,244.10 L418.40,245.10 L419.40,246.10 L420.40,247.10 L421.40,248.10 L422.40,249.10 L423.40,250.10 L424.40,251.10 L425.40,252.10 L426.40,253.10 L427.40,254.11 L428.40,255.14 L429.40,256.18 L430.40,257.26 L431.40,258.37 L432.40,259.51 L433.40,260.67 L434.40,261.84 L435.40,263.02 L436.40,264.19 L437.40,265.37 L438.40,266.54 L439.40,267.72 L440.40,268.89 L441.40,270.07 L442.40,271.24 L443.40,272.40 L444.40,273.56 L445.40,274.71 L446.40,275.85 L447.40,276.98 L448.40,278.11 L449.40,279.23 L450.40,280.36 L451.40,281.49 L452.40,282.62 L453.40,283.74 L454.40,284.87 L455.40,286.00 L456.40,287.14 L457.40,288.28 L458.40,289.43 L459.40,290.59 L460.40,291.75 L461.40,292.92 L462.40,294.09 L463.40,295.26 L464.40,296.43 L465.40,297.61 L466.40,298.79 L467.40,299.97 L468.40,301.16 L469.40,302.35 L470.40,303.55 L471.40,304.76 L472.40,305.96 L473.40,307.17 L474.40,308.37 L475.40,309.58 L476.40,310.78 L477.40,311.98 L478.40,313.19 L479.40,314.39 L480.40,315.60 L481.40,316.80 L482.40,318.01 L483.40,319.23 L484.40,320.46 L485.40,321.70 L486.40,322.96 L487.40,324.24 L488.40,325.53 L489.40,326.83 L490.40,328.13 L491.40,329.43 L492.40,330.73 L493.40,332.03 L494.40,333.32 L495.40,334.62 L496.40,335.92 L497.40,337.22 L498.40,338.52 L499.40,339.82 L500.40,341.13 L501.40,342.44 L502.40,343.77 L503.40,345.11 L504.40,346.47 L505.40,347.84 L506.40,349.23 L507.40,350.61 L508.40,352.01 L509.40,353.40 L510.40,354.82 L511.40,356.26 L512.40,357.73 L513.40,359.24 L514.40,360.76 L515.40,362.26 L516.40,363.69 L517.40,364.98 L518.40,366.07 L519.40,366.95 L520.40,367.68 L521.40,368.28 L522.40,368.82 L523.40,369.32 L524.40,369.80 L525.40,370.25 L526.40,370.69 L527.40,371.13 L528.40,371.55 L529.40,371.98 L530.40,372.40 L531.40,372.83 L532.40,373.25 L533.40,373.68 L534.40,374.11 L535.40,374.54 L536.40,374.99 L537.40,375.43 L538.40,375.89 L539.40,376.35 L540.40,376.81 L541.40,377.28 L542.40,377.75 L543.40,378.22 L544.40,378.69 L545.40,379.17 L546.40,379.64 L547.40,380.12 L548.40,380.60 L549.40,381.08 L550.40,381.56 L551.40,382.04 L552.40,382.52 L553.40,383.00 L554.40,383.48 L555.40,383.96 L556.40,384.44 L557.40,384.92 L558.40,385.40 L559.40,385.89 L560.40,386.37 L561.40,386.86 L562.40,387.34 L563.40,387.83 L564.40,388.32 L565.40,388.81 L566.40,389.31 L567.40,389.81 L568.40,390.31 L569.40,390.81 L570.40,391.31 L571.40,391.81 L572.40,392.31 L573.40,392.81 L574.40,393.31 L575.40,393.82 L576.40,394.32 L577.40,394.82 L578.40,395.32 L579.40,395.82 L580.40,396.32 L581.40,396.83 L582.40,397.33 L583.40,397.83 L584.40,398.33 L585.40,398.83 L586.40,399.33 L587.40,399.84 L588.40,400.34 L589.40,400.84 L590.40,401.34 L591.40,401.84 L592.40,402.34 L593.40,402.85 L594.40,403.35 L595.40,403.85 L596.40,404.35 L597.40,404.85 L598.40,405.35 L599.40,405.86 L600.40,406.36 L601.40,406.86 L602.40,407.36 L603.40,407.86 L604.40,408.36 L605.40,408.87 L606.40,409.37 L607.40,409.87 L608.40,410.37 L609.40,410.87 L610.40,411.37 L611.40,411.88 L612.40,412.38 L613.40,412.88 L614.40,413.38 L615.40,413.88 L616.40,414.38 L617.40,414.88 L618.40,415.39 L619.40,415.89 L620.40,416.39 L621.40,416.89 L622.40,417.39 L623.40,417.89 L624.40,418.40 L625.40,418.90 L626.40,419.40" fill="none" stroke="#000" stroke-width="2" stroke-dasharray="2 2"/>
<!-- legend -->
<g stroke-width="2.2">
<line x1="417.2" y1="42.4" x2="453" y2="42.4" stroke="#000" stroke-dasharray="2 2.2" stroke-width="2"/>
<line x1="418" y1="61.8" x2="455" y2="61.8" stroke="#f02a2a"/>
<line x1="418" y1="81.2" x2="455" y2="81.2" stroke="#00f000"/>
<line x1="418" y1="100.9" x2="455" y2="100.9" stroke="#0000f0"/>
<line x1="418" y1="120.3" x2="455" y2="120.3" stroke="#00f8f8"/>
</g>
<g font-size="15" transform="translate(459.3,0) scale(1.045,1)">
<text x="0" y="46.9">Neat PBI</text>
<text x="0" y="66.6">PBI-50PIL-0DEA</text>
<text x="0" y="86.2">PBI-50PIL-25DEA</text>
<text x="0" y="105.8">PBI-50PIL-50DEA</text>
<text x="0" y="125.4">PBI-50PIL-100DEA</text>
</g>
<!-- annotations -->
<line x1="90" y1="457.4" x2="134.2" y2="457.4" stroke="#000" stroke-width="2.5" stroke-dasharray="2.4 2.2"/>
<line x1="431" y1="456.8" x2="483" y2="456.8" stroke="#000" stroke-width="2.5"/>
<g font-size="12.7" font-weight="bold">
<text x="138.6" y="461.1">Dotted Line Left Y-Axis</text>
<text x="489.4" y="461.1" font-size="12.55">Solid Lines Right Y-Axis</text>
</g>
</svg>
</body></html>
